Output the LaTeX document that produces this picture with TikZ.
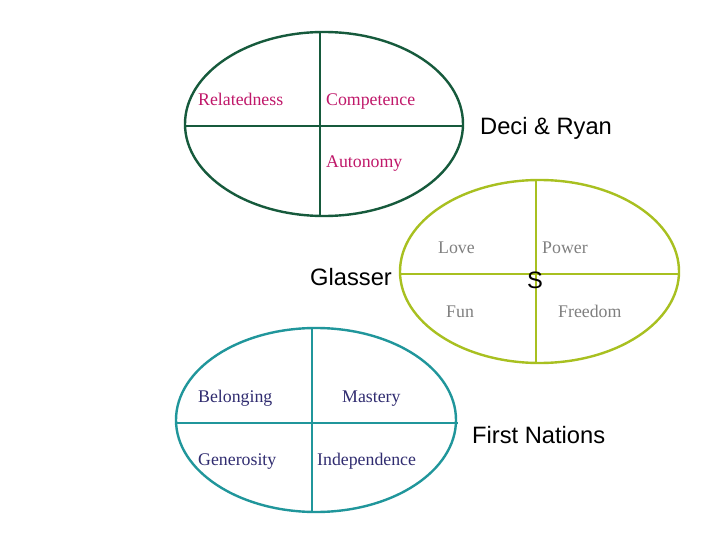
\documentclass[tikz,border=0pt]{standalone}
\usepackage{fontspec}
\setmainfont{Liberation Serif}
\setsansfont{Liberation Sans}
\usepackage{tikz}
\definecolor{deciGreen}{RGB}{22,90,60}
\definecolor{glasserLime}{RGB}{168,192,32}
\definecolor{nationsTeal}{RGB}{32,150,155}
\definecolor{deciText}{RGB}{192,24,106}
\definecolor{glasserText}{RGB}{128,128,128}
\definecolor{nationsText}{RGB}{48,44,112}

\begin{document}
\begin{tikzpicture}[x=1pt,y=-1pt,
    need/.style={anchor=base west,inner sep=0pt,font=\fontsize{17.8}{20}\selectfont},
    author/.style={anchor=base west,inner sep=0pt,font=\sffamily\fontsize{23.7}{28}\selectfont}]
    \useasboundingbox[fill=white] (0,0) rectangle (720,540);

    % Deci & Ryan
    \draw [deciGreen,line width=2.4pt] (324,124) ellipse [x radius=139, y radius=92];
    \draw [deciGreen,line width=2pt] (185,126) -- (463,126);
    \draw [deciGreen,line width=2pt] (320,33) -- (320,215);
    \node[need,text=deciText] (relatedness) at (198,106) {Relatedness};
    \node[need,text=deciText] (competence) at (326,106) {Competence};
    \node[need,text=deciText] (autonomy) at (326,168) {Autonomy};
    \node[author] (deci) at (480,135) {Deci \& Ryan};

    % Glasser
    \draw [glasserLime,line width=2.4pt] (539.5,271.5) ellipse [x radius=139.5, y radius=91.5];
    \draw [glasserLime,line width=2pt] (400,274) -- (679,274);
    \draw [glasserLime,line width=2pt] (536,180) -- (536,363);
    \node[need,text=glasserText] (love) at (438,254) {Love};
    \node[need,text=glasserText] (power) at (542,254) {Power};
    \node[need,text=glasserText] (fun) at (446,317) {Fun};
    \node[need,text=glasserText] (freedom) at (558,317) {Freedom};
    \node[author] (glasser) at (310,285) {Glasser};
    \node[author] (glasserS) at (527,288) {S};

    % First Nations
    \draw [nationsTeal,line width=2.4pt] (316,420) ellipse [x radius=140, y radius=92];
    \draw [nationsTeal,line width=2pt] (176,423) -- (458,423);
    \draw [nationsTeal,line width=2pt] (312,328) -- (312,512);
    \node[need,text=nationsText] (belonging) at (198,402) {Belonging};
    \node[need,text=nationsText] (mastery) at (342,402) {Mastery};
    \node[need,text=nationsText] (generosity) at (198,465) {Generosity};
    \node[need,text=nationsText] (independence) at (317,465) {Independence};
    \node[author] (nations) at (472,443) {First Nations};
\end{tikzpicture}
\end{document}
